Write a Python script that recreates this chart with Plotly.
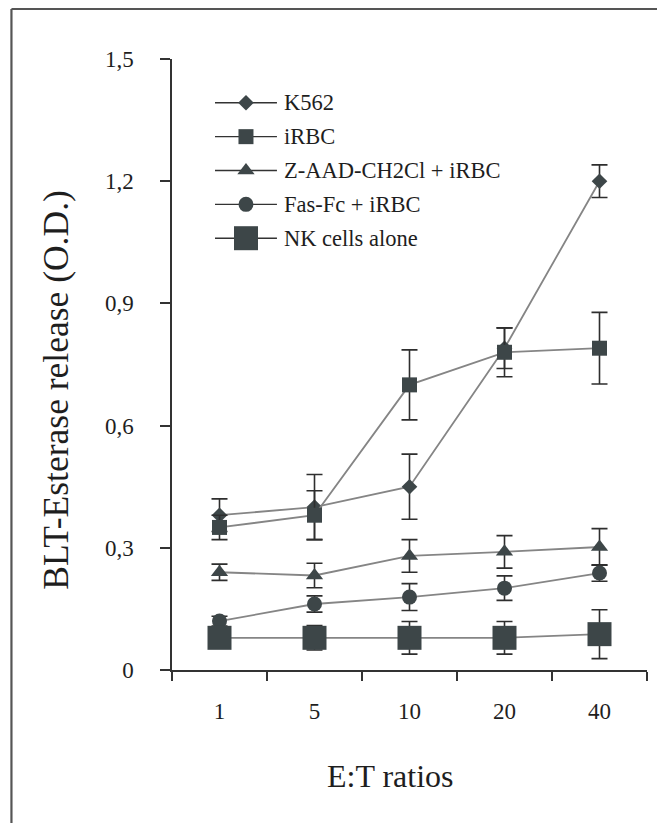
import plotly.graph_objects as go

# ---------------- data ----------------
ratios = ["1", "5", "10", "20", "40"]

series_names = ["K562", "iRBC", "Z-AAD-CH2Cl + iRBC", "Fas-Fc + iRBC", "NK cells alone"]

k562 = [0.38, 0.40, 0.45, 0.79, 1.20]
k562_err = [0.04, 0.08, 0.08, 0.05, 0.04]

irbc = [0.35, 0.38, 0.70, 0.78, 0.79]
irbc_err = [0.03, 0.06, 0.086, 0.06, 0.088]

zaad = [0.24, 0.232, 0.28, 0.29, 0.302]
zaad_err = [0.02, 0.03, 0.04, 0.04, 0.045]

fasfc = [0.12, 0.162, 0.179, 0.201, 0.238]
fasfc_err = [0.012, 0.02, 0.033, 0.03, 0.02]

nk = [0.079, 0.079, 0.079, 0.079, 0.088]
nk_err = [0.012, 0.03, 0.04, 0.04, 0.06]

y_ticks = [0, 0.3, 0.6, 0.9, 1.2, 1.5]
y_tick_labels = ["0", "0,3", "0,6", "0,9", "1,2", "1,5"]

# ---------------- style ----------------
FONT = "Liberation Serif, Times New Roman, Times, serif"
MARK = "#3d4648"
LINE = "#858585"
ERR = "#2e2e2e"
AX = "#333333"
TXT = "#1e1e1e"

styles = [
    dict(symbol="diamond", size=12),
    dict(symbol="square", size=15),
    dict(symbol="triangle-up", size=15),
    dict(symbol="circle", size=15),
    dict(symbol="square", size=24),
]
values = [k562, irbc, zaad, fasfc, nk]
errors = [k562_err, irbc_err, zaad_err, fasfc_err, nk_err]

fig = go.Figure()

for name, vals, errs, st in zip(series_names, values, errors, styles):
    fig.add_trace(go.Scatter(
        x=ratios, y=vals, name=name, mode="lines+markers",
        line=dict(color=LINE, width=1.8),
        marker=dict(symbol=st["symbol"], size=st["size"], color=MARK,
                    line=dict(width=0)),
        error_y=dict(type="data", array=errs, visible=True,
                     color=ERR, thickness=1.6, width=8),
        showlegend=False,
        cliponaxis=False,
    ))

# ---------------- hand-drawn legend on a helper axis ----------------
for i, (name, st) in enumerate(zip(series_names, styles)):
    fig.add_trace(go.Scatter(
        x=[0, 1], y=[i, i], mode="lines",
        line=dict(color=AX, width=1.4),
        xaxis="x2", yaxis="y2", showlegend=False, hoverinfo="skip",
    ))
    fig.add_trace(go.Scatter(
        x=[0.5], y=[i], mode="markers",
        marker=dict(symbol=st["symbol"], size=st["size"], color=MARK,
                    line=dict(width=0)),
        xaxis="x2", yaxis="y2", showlegend=False, hoverinfo="skip",
        cliponaxis=False,
    ))
    fig.add_annotation(
        x=1, y=i, xref="x2", yref="y2", text=name, showarrow=False,
        xanchor="left", yanchor="middle", xshift=5,
        font=dict(family=FONT, size=22.5, color=TXT),
    )

fig.update_layout(
    width=657, height=815,
    margin=dict(l=164, r=18, t=51, b=153),
    paper_bgcolor="white", plot_bgcolor="white",
    font=dict(family=FONT, color=TXT),
    showlegend=False,
    xaxis=dict(
        type="category", range=[-0.5, 4.5],
        tickson="boundaries", ticks="outside", ticklen=9, tickwidth=1.5,
        tickcolor=AX, showline=True, linecolor=AX, linewidth=1.5,
        showgrid=False, zeroline=False,
        tickfont=dict(family=FONT, size=23, color=TXT),
        ticklabelstandoff=20,
    ),
    yaxis=dict(
        range=[0, 1.5], tickvals=y_ticks, ticktext=y_tick_labels,
        ticks="outside", ticklen=10, tickwidth=1.5, tickcolor=AX,
        showline=True, linecolor=AX, linewidth=1.5,
        showgrid=False, zeroline=False,
        tickfont=dict(family=FONT, size=23, color=TXT),
        ticklabelstandoff=22,
    ),
    xaxis2=dict(domain=[0.0905, 0.221], range=[0, 1], visible=False,
                fixedrange=True, anchor="y2"),
    yaxis2=dict(domain=[0.679, 0.956], range=[4.5, -0.5], visible=False,
                fixedrange=True, anchor="x2"),
)

# axis titles
fig.add_annotation(
    x=0.461, y=-0.1735, xref="paper", yref="paper", text="E:T ratios",
    showarrow=False, xanchor="center", yanchor="middle",
    font=dict(family=FONT, size=32, color=TXT),
)
fig.add_annotation(
    x=-0.243, y=0.458, xref="paper", yref="paper",
    text="BLT-Esterase release (O.D.)", textangle=-90,
    showarrow=False, xanchor="center", yanchor="middle",
    font=dict(family=FONT, size=35.5, color=TXT),
)

# outer frame (top and left edges)
fig.add_shape(type="line", xref="paper", yref="paper",
              x0=-0.338, x1=-0.338, y0=-0.27, y1=1.0818,
              line=dict(color="#555555", width=2.2))
fig.add_shape(type="line", xref="paper", yref="paper",
              x0=-0.338, x1=1.06, y0=1.0818, y1=1.0818,
              line=dict(color="#555555", width=2.2))

fig.write_html("out.html")
